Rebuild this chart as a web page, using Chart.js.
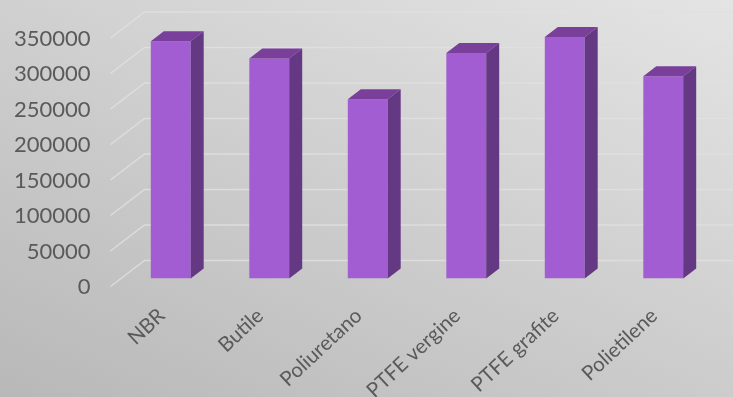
<!DOCTYPE html>
<html>
<head>
<meta charset="utf-8">
<style>
  html, body { margin: 0; padding: 0; width: 733px; height: 397px; overflow: hidden; }
  body { background: linear-gradient(204deg, #e4e4e4 0%, #b8b8b8 100%); }
  #wrap { position: absolute; left: 0; top: 0; width: 733px; height: 397px; }
</style>
<script src="https://cdn.jsdelivr.net/npm/chart.js@4"></script>
</head>
<body>
<div id="wrap"><canvas id="chart" width="733" height="397"></canvas></div>
<script>
const categories = ['NBR', 'Butile', 'Poliuretano', 'PTFE vergine', 'PTFE grafite', 'Polietilene'];
const resistance = [334000, 310000, 252500, 317500, 340000, 285000];
const yTicks = [0, 50000, 100000, 150000, 200000, 250000, 300000, 350000];

const DEPTH_X = 13, DEPTH_Y = 10;      // bar extrusion
const WALL_X = 23, WALL_Y = 18;        // wall offset behind the bars
const FLOOR_X = 11, FLOOR_Y = 8;       // floor edge in front of the bars

// Draws the pseudo-3D grid: an oblique floor/side stroke plus a back-wall line per tick.
const wallGrid = {
  id: 'wallGrid',
  beforeDatasetsDraw(chart) {
    const { ctx, scales: { x, y } } = chart;
    ctx.save();
    ctx.strokeStyle = 'rgba(224,224,224,0.85)';
    ctx.lineWidth = 1.5;
    yTicks.forEach(v => {
      const py = y.getPixelForValue(v);
      ctx.beginPath();
      ctx.moveTo(x.left - FLOOR_X, py + FLOOR_Y);
      ctx.lineTo(x.left + WALL_X, py - WALL_Y);
      ctx.lineTo(chart.width, py - WALL_Y);
      ctx.stroke();
    });
    ctx.restore();
  }
};

// Adds the top and side faces to each bar from its element geometry.
const barFaces = {
  id: 'barFaces',
  afterDatasetsDraw(chart) {
    const { ctx } = chart;
    chart.getDatasetMeta(0).data.forEach(bar => {
      const half = bar.width / 2;
      const l = bar.x - half, r = bar.x + half, t = bar.y, b = bar.base;
      ctx.fillStyle = '#793f9b';
      ctx.beginPath();
      ctx.moveTo(l, t);
      ctx.lineTo(l + DEPTH_X, t - DEPTH_Y);
      ctx.lineTo(r + DEPTH_X, t - DEPTH_Y);
      ctx.lineTo(r, t);
      ctx.closePath();
      ctx.fill();
      ctx.fillStyle = '#643883';
      ctx.beginPath();
      ctx.moveTo(r, t);
      ctx.lineTo(r + DEPTH_X, t - DEPTH_Y);
      ctx.lineTo(r + DEPTH_X, b - DEPTH_Y);
      ctx.lineTo(r, b);
      ctx.closePath();
      ctx.fill();
    });
  }
};

new Chart(document.getElementById('chart'), {
  type: 'bar',
  data: {
    labels: categories,
    datasets: [{
      data: resistance,
      backgroundColor: '#a25dd2',
      borderWidth: 0,
      barPercentage: 0.405,
      categoryPercentage: 1
    }]
  },
  options: {
    responsive: false,
    animation: false,
    plugins: { legend: { display: false }, tooltip: { enabled: false } },
    layout: { padding: { left: 0, right: 20.5, top: 30, bottom: 0 } },
    scales: {
      x: {
        afterFit(scale) { scale.height = 118.5; },
        grid: { display: false },
        border: { display: false },
        ticks: {
          color: '#5a5a5a',
          font: { family: 'Lato', size: 20.5 },
          minRotation: 43,
          maxRotation: 43,
          autoSkip: false,
          padding: 17,
          labelOffset: -9
        }
      },
      y: {
        min: 0,
        max: 350000,
        afterBuildTicks(scale) { scale.ticks = yTicks.map(value => ({ value })); },
        afterFit(scale) { scale.width = 121.5; scale.paddingTop = 0; scale.paddingBottom = 0; },
        grid: { display: false },
        border: { display: false },
        ticks: {
          color: '#5a5a5a',
          font: { family: 'Lato', size: 22 },
          padding: 23,
          labelOffset: 8.5,
          callback: value => String(value)
        }
      }
    }
  },
  plugins: [wallGrid, barFaces]
});
</script>
</body>
</html>
